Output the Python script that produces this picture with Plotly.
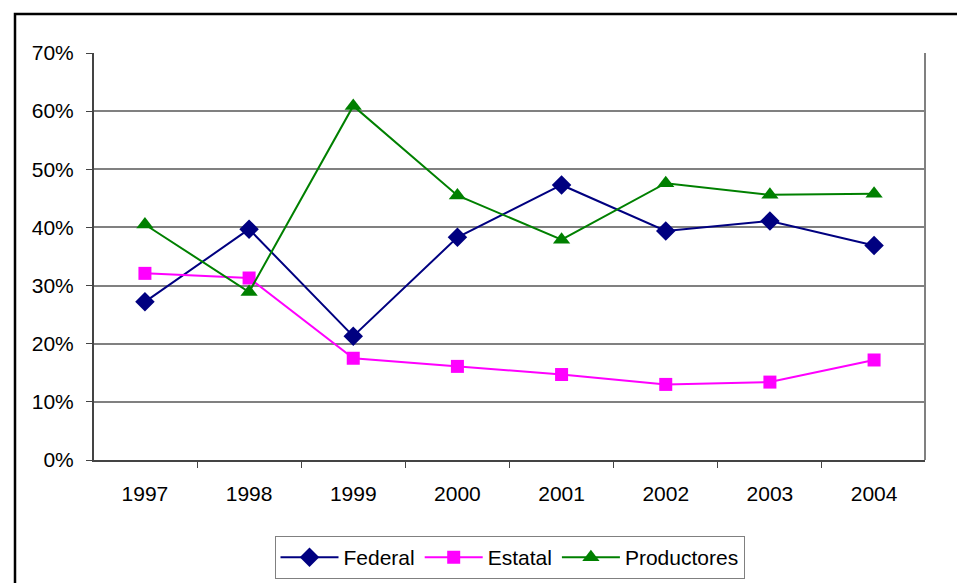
import plotly.graph_objects as go

years = ["1997", "1998", "1999", "2000", "2001", "2002", "2003", "2004"]
federal = [0.272, 0.397, 0.213, 0.383, 0.473, 0.394, 0.411, 0.369]
estatal = [0.321, 0.313, 0.175, 0.161, 0.147, 0.130, 0.134, 0.172]
productores = [0.405, 0.289, 0.609, 0.455, 0.379, 0.476, 0.456, 0.458]

series = [
    ("Federal", federal, "#000080", "diamond", 15),
    ("Estatal", estatal, "#FF00FF", "square", 13),
    ("Productores", productores, "#008000", "triangle-up", 15),
]

fig = go.Figure()
for name, vals, color, sym, size in series:
    fig.add_trace(go.Scatter(
        x=years, y=vals, name=name, mode="lines+markers",
        line=dict(color=color, width=2),
        marker=dict(symbol=sym, size=size, color=color),
    ))

W, H = 957, 583
L, R, T, B = 94, 32, 53, 123
pw, ph = W - L - R, H - T - B

fig.update_layout(
    width=W, height=H,
    margin=dict(l=L, r=R, t=T, b=B, autoexpand=False),
    paper_bgcolor="white", plot_bgcolor="white",
    font=dict(family="Liberation Sans, Arial, sans-serif", size=20, color="black"),
    showlegend=True,
    legend=dict(
        orientation="h", x=0.5, xanchor="center",
        y=(T + ph - 536) / ph, yanchor="top",
        bordercolor="#808080", borderwidth=1,
        font=dict(size=21), itemwidth=58,
        tracegroupgap=0,
    ),
    xaxis=dict(
        type="category", tickson="boundaries", ticks="outside", ticklen=6,
        tickcolor="#444", showline=True, linecolor="#444", linewidth=2,
        showgrid=False, mirror=False, ticklabelstandoff=14, automargin=False,
        tickfont=dict(size=21),
    ),
    yaxis=dict(
        range=[0, 0.7], dtick=0.1, tickformat=".0%", ticks="outside",
        ticklen=6, tickcolor="#444", showline=True, linecolor="#444",
        linewidth=2, showgrid=True, gridcolor="#808080", gridwidth=2,
        zeroline=False, ticklabelstandoff=8, automargin=False,
        tickfont=dict(size=21),
    ),
    shapes=[
        # right edge of the plot area
        dict(type="line", xref="paper", yref="paper", x0=1, x1=1, y0=0, y1=1,
             line=dict(color="#808080", width=2)),
        # outer chart frame
        dict(type="rect", xref="paper", yref="paper",
             x0=(15 - L) / pw, x1=(W + 20 - L) / pw,
             y0=-(B + 20) / ph, y1=1 + (T - 14) / ph,
             line=dict(color="black", width=2.5)),
    ],
)

fig.write_html("out.html")
